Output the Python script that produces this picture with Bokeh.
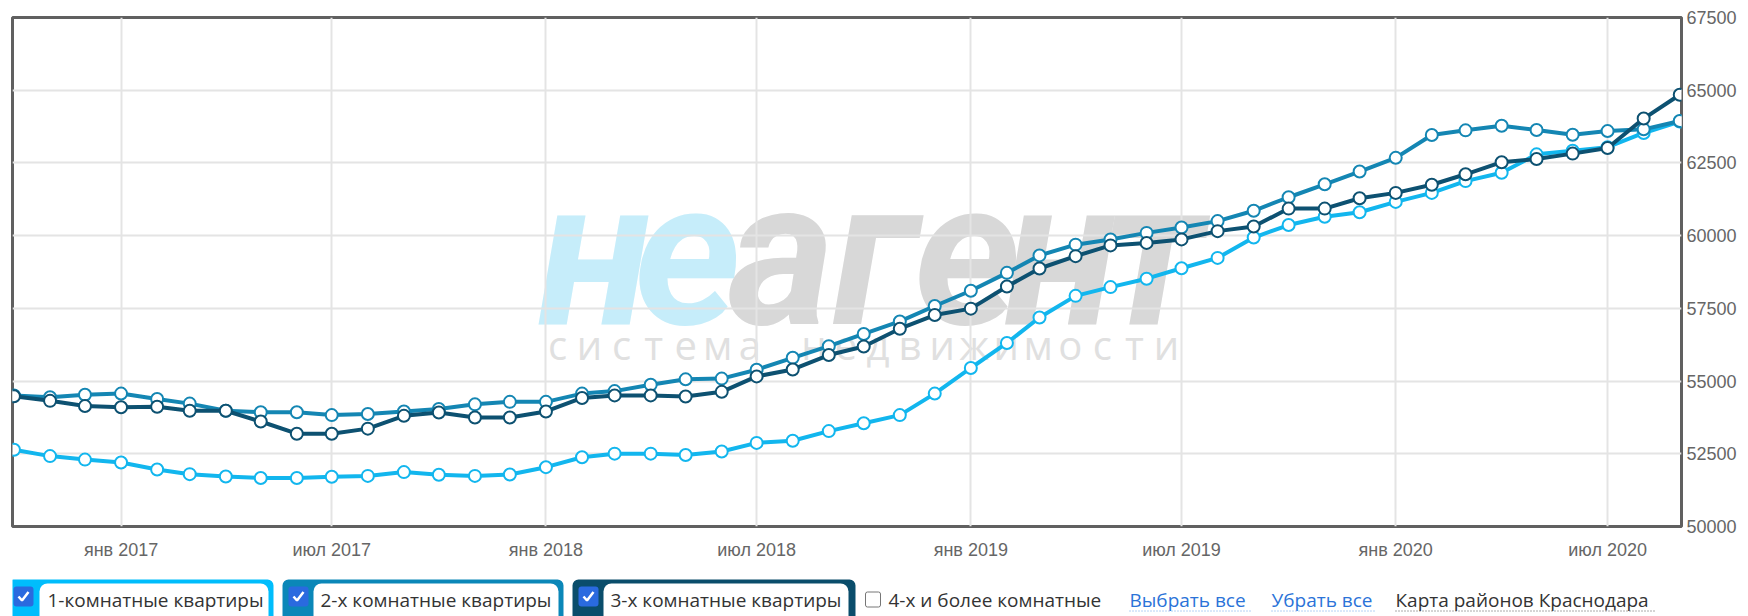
from datetime import datetime, timedelta
import pandas as pd
from bokeh.plotting import figure
from bokeh.models import Range1d, FixedTicker
from bokeh.layouts import column
from bokeh.embed import file_html
from bokeh.resources import INLINE
from bokeh.core.properties import value

# ---------------- data ----------------
months = list(pd.date_range("2016-10-01", "2020-09-01", freq="MS"))

room1 = [52640, 52420, 52300,
         52200, 51960, 51800, 51720, 51670, 51670, 51710, 51740, 51870, 51780, 51740, 51790,
         52040, 52380, 52505, 52505, 52456, 52580, 52875, 52950, 53280, 53550, 53830, 54570,
         55450, 56310, 57185, 57930, 58230, 58520, 58880, 59235, 59935, 60365, 60650, 60805,
         61160, 61470, 61875, 62160, 62795, 62920, 63040, 63530, 63925]

room2 = [54507, 54445, 54530,
         54570, 54385, 54225, 53980, 53930, 53930, 53830, 53870, 53955, 54040, 54200, 54285,
         54285, 54570, 54655, 54875, 55060, 55085, 55390, 55800, 56200, 56620, 57050, 57580,
         58105, 58720, 59320, 59690, 59870, 60095, 60280, 60500, 60855, 61320, 61765, 62205,
         62675, 63460, 63620, 63780, 63630, 63470, 63595, 63655, 63940]

room3 = [54480, 54320, 54140,
         54100, 54115, 53980, 53980, 53610, 53190, 53190, 53365, 53805, 53920, 53745, 53745,
         53955, 54420, 54507, 54507, 54470, 54630, 55160, 55400, 55895, 56190, 56800, 57270,
         57490, 58250, 58870, 59295, 59665, 59750, 59870, 60155, 60315, 60930, 60930, 61285,
         61470, 61750, 62110, 62525, 62635, 62820, 63015, 64025, 64845]

tick_dates = ["2017-01-01", "2017-07-01", "2018-01-01", "2018-07-01",
              "2019-01-01", "2019-07-01", "2020-01-01", "2020-07-01"]
tick_labels = ["янв 2017", "июл 2017", "янв 2018", "июл 2018",
               "янв 2019", "июл 2019", "янв 2020", "июл 2020"]
y_ticks = [50000, 52500, 55000, 57500, 60000, 62500, 65000, 67500]

series_names = ["1-комнатные квартиры", "2-х комнатные квартиры", "3-х комнатные квартиры"]
extra_labels = ["4-х и более комнатные", "Выбрать все", "Убрать все", "Карта районов Краснодара"]

line_colors = ["#12b6ee", "#1486b3", "#0d5171"]
box_colors = ["#00bdfc", "#0b87b8", "#0a4d6b"]

# ---------------- main chart ----------------
x0 = datetime(2016, 9, 29, 18)
x1 = datetime(2020, 9, 2, 12)
W = 1748
FL, FT, FR, FB = 12, 17, 67, 44
FW = W - FL - FR
FH = 509

p = figure(width=W, height=FT + FH + FB, x_axis_type="datetime", y_axis_location="right",
           x_range=Range1d(x0, x1), y_range=Range1d(50000, 67500),
           output_backend="svg", toolbar_location=None,
           min_border_left=FL, min_border_top=FT, min_border_right=FR, min_border_bottom=FB)
p.outline_line_color = "#606060"
p.outline_line_width = 3

tick_ms = [pd.Timestamp(d).value // 10**6 for d in tick_dates]
p.xaxis.ticker = FixedTicker(ticks=tick_ms)
p.xaxis.major_label_overrides = {ms: lbl for ms, lbl in zip(tick_ms, tick_labels)}
p.yaxis.ticker = FixedTicker(ticks=y_ticks)
for ax in (p.xaxis[0], p.yaxis[0]):
    ax.axis_line_color = None
    ax.major_tick_line_color = None
    ax.minor_tick_line_color = None
    ax.major_tick_out = 0
    ax.major_tick_in = 0
    ax.minor_tick_out = 0
    ax.major_label_text_font = "Liberation Sans"
    ax.major_label_text_font_size = "18px"
    ax.major_label_text_color = "#666666"
p.xaxis.major_label_standoff = 13
p.yaxis.major_label_standoff = 5
p.grid.grid_line_color = "#e4e4e4"
p.grid.grid_line_width = 2

span_days = (x1 - x0).total_seconds() / 86400.0
ppd = FW / span_days


def px_to_x(px):
    return x0 + timedelta(days=(px - FL) / ppd)


def py_to_y(py):
    return 50000 + (FT + FH - py) / FH * 17500


# watermark (drawn below the grid)
WM = 205
logo = "неагент"
logo_colors = ["#c6edfa"] * 2 + ["#d8d8d8"] * 5
r = p.text(x=[px_to_x(594 + i * 93.3) for i in range(len(logo))],
           y=[py_to_y(313 - 0.29 * WM)] * len(logo), text=list(logo),
           text_font=value("Roboto"), text_font_style="bold italic",
           text_font_size=f"{WM}px", text_color=logo_colors,
           text_align="center", text_baseline="alphabetic")
r.level = "image"
sub = "система недвижимости"
r2 = p.text(x=[px_to_x(557 + i * 32.05) for i in range(len(sub))], y=[py_to_y(344)] * len(sub),
            text=list(sub), text_font=value("Open Sans"), text_font_size="40px",
            text_color="#e0e0e0", text_align="center", text_baseline="alphabetic")
r2.level = "image"

for vals, c in zip([room1, room2, room3], line_colors):
    p.line(x=months, y=vals, line_color=c, line_width=4)
    p.scatter(x=months, y=vals, marker="circle", size=12, fill_color="white",
              line_color=c, line_width=2)

# ---------------- legend row (x in page pixels) ----------------
LH = 46
lg = figure(width=W, height=LH, x_range=Range1d(FL, W - FR), y_range=Range1d(LH, 0),
            output_backend="svg", toolbar_location=None, x_axis_type=None, y_axis_type=None,
            min_border_left=FL, min_border_right=FR, min_border_top=0, min_border_bottom=0,
            outline_line_color=None)

box_l = [7, 282, 572]
box_r = [273, 563, 855]
lg.quad(left=box_l, right=box_r, top=[9] * 3, bottom=[60] * 3, fill_color=box_colors,
        line_color=None, border_radius=6)
lab_l = [39, 313, 603]
lab_r = [268, 558, 848]
lg.quad(left=lab_l, right=lab_r, top=[13] * 3, bottom=[60] * 3, fill_color="white",
        line_color=None, border_radius=8)
cb_l = [13, 288, 578]
lg.quad(left=cb_l, right=[v + 20 for v in cb_l], top=[16] * 3, bottom=[36] * 3,
        fill_color="#2a6adf", line_color=None, border_radius=3)
lg.multi_line(xs=[[v + 5, v + 8.5, v + 15] for v in cb_l], ys=[[26, 30, 21.5]] * 3,
              line_color="white", line_width=2.5)
lg.text(x=[47, 320, 610], y=[29] * 3, text=series_names, text_font=value("Open Sans"),
        text_font_size="19px", text_color="#333333", text_baseline="middle")

# unchecked box
lg.quad(left=[865], right=[880], top=[21.5], bottom=[36.5], fill_color="white",
        line_color="#767676", line_width=1, border_radius=2)
lg.text(x=[888, 1129, 1271, 1395], y=[29] * 4, text=extra_labels,
        text_font=value("Open Sans"), text_font_size="19px",
        text_color=["#333333", "#2b73d8", "#2b73d8", "#333333"], text_baseline="middle")
lg.segment(x0=[1129, 1271, 1395], x1=[1250, 1375, 1654], y0=[40.5] * 3, y1=[40.5] * 3,
           line_color=["#6aa4ec", "#6aa4ec", "#555555"], line_width=1, line_dash="1 2")

layout = column(p, lg)
open("out.html", "w").write(file_html(layout, INLINE))
